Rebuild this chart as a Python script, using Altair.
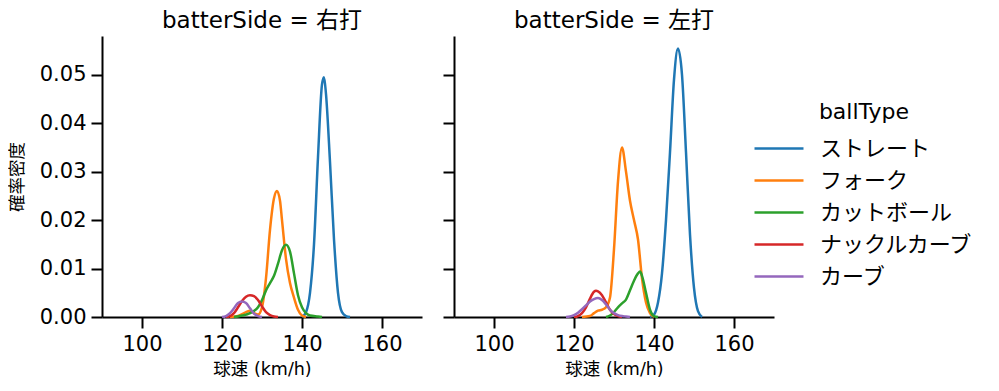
import altair as alt
import pandas as pd

FONT = "DejaVu Sans, Noto Sans CJK JP"

ball_types = ["ストレート", "フォーク", "カットボール", "ナックルカーブ", "カーブ"]
palette = ["#1f77b4", "#ff7f0e", "#2ca02c", "#d62728", "#9467bd"]
sides = ["右打", "左打"]

# ---- 右打 ----
r_straight_speed = [140, 141, 142, 143, 144, 145, 145.5, 146, 147, 148, 149, 150, 151, 152]
r_straight_dens = [0, 0.001, 0.005, 0.015, 0.033, 0.048, 0.0495, 0.046, 0.032, 0.016, 0.005, 0.001, 0.0002, 0]

r_fork_speed = [122, 124, 126, 127, 128, 129, 130, 131, 132, 133, 133.75, 134.5, 135, 136, 137, 138, 139, 140, 141]
r_fork_dens = [0, 0.0002, 0.001, 0.0013, 0.0008, 0.0005, 0.002, 0.008, 0.018, 0.0245, 0.026, 0.024, 0.02, 0.012, 0.007, 0.004, 0.0015, 0.0003, 0]

r_cut_speed = [123, 125, 127, 129, 130, 131, 132, 133, 134, 135, 136, 137, 138, 139, 140, 141, 142, 144, 145]
r_cut_dens = [0, 0.0003, 0.0008, 0.002, 0.0035, 0.0055, 0.007, 0.0085, 0.011, 0.0138, 0.0149, 0.0135, 0.009, 0.0045, 0.002, 0.0008, 0.0003, 0.0001, 0]

r_kcurve_speed = [121, 122, 123, 124, 125, 126, 127, 128, 129, 130, 131, 132, 133, 134]
r_kcurve_dens = [0, 0.0002, 0.0008, 0.002, 0.0033, 0.0042, 0.0045, 0.0043, 0.0035, 0.0022, 0.001, 0.0004, 0.0001, 0]

r_curve_speed = [120, 121, 122, 123, 124, 125, 126, 127, 128, 129, 130]
r_curve_dens = [0, 0.0002, 0.0008, 0.0018, 0.0029, 0.0032, 0.0029, 0.0018, 0.0007, 0.0002, 0]

# ---- 左打 ----
l_straight_speed = [139, 140, 141, 142, 143, 144, 145, 146, 147, 148, 149, 150, 151, 152]
l_straight_dens = [0, 0.0005, 0.003, 0.009, 0.02, 0.034, 0.049, 0.0554, 0.05, 0.034, 0.017, 0.006, 0.0012, 0]

l_fork_speed = [122, 124, 125, 126, 127, 128, 129, 130, 131, 132, 133, 134, 135, 136, 137, 138, 139, 140]
l_fork_dens = [0, 0.0002, 0.0008, 0.0013, 0.0015, 0.002, 0.004, 0.014, 0.028, 0.035, 0.03, 0.024, 0.02, 0.016, 0.008, 0.003, 0.0008, 0]

l_cut_speed = [128, 129, 130, 131, 132, 133, 134, 135, 136, 136.5, 137, 138, 139, 140, 141]
l_cut_dens = [0, 0.0003, 0.001, 0.002, 0.0028, 0.0036, 0.0055, 0.0075, 0.009, 0.0094, 0.0085, 0.005, 0.0015, 0.0002, 0]

l_kcurve_speed = [120, 121, 122, 123, 124, 125, 125.5, 126, 127, 128, 129, 130, 131, 132]
l_kcurve_dens = [0, 0.0002, 0.0008, 0.002, 0.0038, 0.0052, 0.0054, 0.0053, 0.0045, 0.003, 0.0015, 0.0006, 0.0002, 0]

l_curve_speed = [118, 119, 120, 121, 122, 123, 124, 125, 126, 127, 128, 129, 130, 131, 132, 133, 134]
l_curve_dens = [0, 0.0001, 0.0004, 0.0009, 0.0016, 0.0024, 0.0032, 0.0037, 0.0039, 0.0035, 0.0026, 0.0015, 0.0008, 0.0004, 0.0002, 0.0001, 0]

series = {
    "右打": [
        (r_straight_speed, r_straight_dens),
        (r_fork_speed, r_fork_dens),
        (r_cut_speed, r_cut_dens),
        (r_kcurve_speed, r_kcurve_dens),
        (r_curve_speed, r_curve_dens),
    ],
    "左打": [
        (l_straight_speed, l_straight_dens),
        (l_fork_speed, l_fork_dens),
        (l_cut_speed, l_cut_dens),
        (l_kcurve_speed, l_kcurve_dens),
        (l_curve_speed, l_curve_dens),
    ],
}

rows = []
for side in sides:
    for bt, (xs, ys) in zip(ball_types, series[side]):
        for x, y in zip(xs, ys):
            rows.append({"batterSide": side, "ballType": bt, "speed": x, "density": y})
df = pd.DataFrame(rows)

x_ticks = [100, 120, 140, 160]
y_ticks = [0, 0.01, 0.02, 0.03, 0.04, 0.05]


def panel(side, first):
    return (
        alt.Chart(df)
        .transform_filter(alt.datum.batterSide == side)
        .mark_line(strokeWidth=2.5, interpolate="monotone")
        .encode(
            x=alt.X(
                "speed:Q",
                scale=alt.Scale(domain=[90, 170], nice=False, zero=False),
                axis=alt.Axis(values=x_ticks, title="球速 (km/h)"),
            ),
            y=alt.Y(
                "density:Q",
                scale=alt.Scale(domain=[0, 0.058], nice=False),
                axis=alt.Axis(
                    values=y_ticks,
                    format=".2f",
                    labels=first,
                    title="確率密度" if first else "",
                ),
            ),
            color=alt.Color(
                "ballType:N",
                sort=ball_types,
                scale=alt.Scale(domain=ball_types, range=palette),
                legend=alt.Legend(
                    title="ballType",
                    orient="none",
                    legendX=651,
                    legendY=66,
                    symbolType="stroke",
                    symbolStrokeWidth=2.5,
                    symbolSize=2400,
                    clipHeight=22,
                    labelOffset=15,
                    rowPadding=10,
                    titlePadding=13.5,
                    titleAnchor="middle",
                ),
            ),
            detail="ballType:N",
        )
        .properties(
            width=320,
            height=281,
            title=alt.TitleParams(f"batterSide = {side}", fontSize=23, fontWeight="normal", font=FONT, offset=3, color="black"),
        )
    )


chart = (
    alt.hconcat(panel("右打", True), panel("左打", False), spacing=20)
    .properties(padding={"left": 0, "top": 2, "right": 0, "bottom": 0})
    .configure_view(stroke=None)
    .configure_axis(
        grid=False,
        domainColor="black",
        domainWidth=2,
        tickColor="black",
        tickWidth=2,
        tickSize=11,
        labelFont=FONT,
        titleFont=FONT,
        labelFontSize=21,
        titleFontSize=17.5,
        titleFontWeight="normal",
        labelColor="black",
        titleColor="black",
        labelPadding=5,
        titlePadding=13,
    )
    .configure_axisX(titlePadding=6, labelPadding=5)
    .configure_legend(
        labelFont=FONT,
        titleFont=FONT,
        labelFontSize=22,
        titleFontSize=22,
        titleFontWeight="normal",
        labelColor="black",
        titleColor="black",
    )
)

chart.save("out.html", embed_options={"renderer": "svg", "actions": False})
